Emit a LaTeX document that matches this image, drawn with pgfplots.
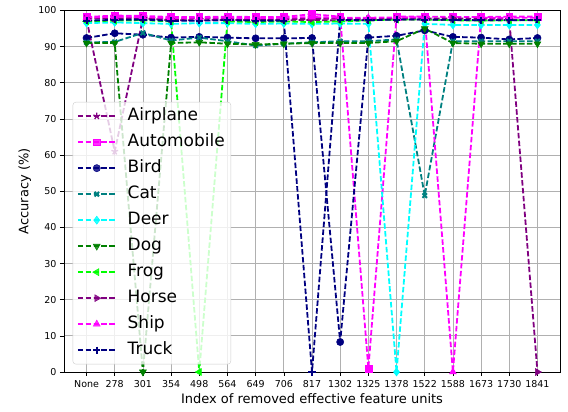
\documentclass[border=0pt]{standalone}
\usepackage{fontspec}
\setmainfont{DejaVu Sans}
\usepackage{pgfplots}
\usepackage{pgfplotstable}
\pgfplotsset{compat=1.18}
\usetikzlibrary{plotmarks}
\definecolor{mpurple}{HTML}{800080}
\definecolor{mmagenta}{HTML}{FF00FF}
\definecolor{mnavy}{HTML}{000080}
\definecolor{mteal}{HTML}{008080}
\definecolor{mcyan}{HTML}{00FFFF}
\definecolor{mgreen}{HTML}{008000}
\definecolor{mlime}{HTML}{00FF00}
\definecolor{mgrid}{HTML}{B0B0B0}
\pgfplotstableread{
x Airplane Automobile Bird Cat Deer Dog Frog Horse Ship Truck
0  97.5 98.2 92.4 91.2 96.5 91.0 97.0 97.8 98.0 97.2
1  61.0 98.6 93.7 91.3 96.7 91.0 97.2 97.8 98.3 97.4
2  97.8 98.5 93.3 93.8 96.5 0.0  97.3 98.0 98.2 97.5
3  97.3 98.2 92.5 91.7 96.3 91.0 97.0 97.6 97.9 97.1
4  97.3 98.2 92.7 92.5 96.5 91.2 0.0  97.8 98.0 97.2
5  97.4 98.3 92.5 91.5 96.5 90.8 97.0 97.7 98.0 97.3
6  97.3 98.2 92.3 90.3 96.3 90.6 96.8 97.6 97.9 97.2
7  97.3 98.2 92.3 90.8 96.4 90.8 97.0 97.6 98.0 97.2
8  97.4 99.0 92.4 91.2 96.3 91.0 96.8 97.7 98.2 0.0
9  97.2 98.3 8.3  91.5 96.4 91.0 97.0 97.7 98.0 97.4
10 97.3 1.0  92.5 91.5 96.3 91.0 97.3 97.6 98.0 97.3
11 97.5 98.3 93.0 92.0 0.0  91.5 97.5 97.8 98.1 97.5
12 97.5 98.3 94.5 48.8 96.3 95.0 97.5 97.8 98.1 97.5
13 97.3 98.2 92.7 91.5 96.0 91.0 97.3 97.8 0.0  97.4
14 97.3 98.2 92.5 91.5 96.0 90.8 97.2 97.7 98.0 97.3
15 97.4 98.3 92.0 91.5 96.0 90.8 97.3 97.7 98.0 97.3
16 97.3 98.3 92.4 91.5 96.0 90.8 97.3 0.0  98.0 97.4
}\datatable
\begin{document}
\begin{tikzpicture}
\useasboundingbox (-64pt,-40pt) rectangle (504pt,372pt);
\begin{axis}[
  at={(0pt,0pt)}, anchor=south west,
  scale only axis, width=496pt, height=361.5pt,
  xmin=-0.8, xmax=16.8, ymin=0, ymax=100,
  xtick={0,...,16},
  xticklabels={None,278,301,354,498,564,649,706,817,1302,1325,1378,1522,1588,1673,1730,1841},
  ytick={0,10,...,100},
  tick pos=left, tick align=outside,
  major tick length=4pt,
  tick style={black, line width=0.6pt},
  axis line style={black, line width=0.7pt},
  grid=major,
  major grid style={mgrid, line width=0.7pt},
  /pgf/number format/assume math mode=true,
  ticklabel style={font=\fontsize{9.5}{11}\selectfont},
  xticklabel style={yshift=-1pt},
  xlabel={Index of removed effective feature units},
  ylabel={Accuracy (\%)},
  label style={font=\fontsize{13}{15}\selectfont},
  xlabel style={at={(axis description cs:0.5,-0.05)}, anchor=north},
  ylabel style={at={(axis description cs:-0.079,0.5)}, anchor=center},
  legend cell align=left,
  legend style={at={(axis description cs:0.0175,0.747)}, anchor=north west,
    font=\fontsize{17}{20}\selectfont,
    draw=black!20, rounded corners=3pt, fill=white, fill opacity=0.8, text opacity=1,
    row sep=6pt, column sep=9pt, inner xsep=4pt, inner ysep=4pt,
    nodes={inner sep=2pt, text height=12.5pt, text depth=3.5pt}},
  legend image code/.code={\draw[mark repeat=2,mark phase=2] plot coordinates {(0pt,0pt)(19pt,0pt)(38pt,0pt)};},
  every axis plot post/.append style={line width=1.8pt, dash pattern=on 5.5pt off 2.4pt},
]
\addplot[mpurple, mark=star, mark size=3.5pt, mark options={solid, line width=1.3pt}] table[x=x,y=Airplane]{\datatable};
\addlegendentry{Airplane}
\addplot[mmagenta, mark=square*, mark size=3.4pt, mark options={solid, line width=0.5pt}] table[x=x,y=Automobile]{\datatable};
\addlegendentry{Automobile}
\addplot[mnavy, mark=*, mark size=3.6pt, mark options={solid, line width=0.5pt}] table[x=x,y=Bird]{\datatable};
\addlegendentry{Bird}
\addplot[mteal, mark=x, mark size=3.2pt, mark options={solid, line width=2pt}] table[x=x,y=Cat]{\datatable};
\addlegendentry{Cat}
\addplot[mcyan, mark=diamond*, mark size=4pt, mark options={solid, line width=0.5pt}] table[x=x,y=Deer]{\datatable};
\addlegendentry{Deer}
\addplot[mgreen, mark=triangle*, mark size=4pt, mark options={solid, rotate=180, line width=0.5pt}] table[x=x,y=Dog]{\datatable};
\addlegendentry{Dog}
\addplot[mlime, mark=triangle*, mark size=4pt, mark options={solid, rotate=90, line width=0.5pt}] table[x=x,y=Frog]{\datatable};
\addlegendentry{Frog}
\addplot[mpurple, mark=triangle*, mark size=4pt, mark options={solid, rotate=-90, line width=0.5pt}] table[x=x,y=Horse]{\datatable};
\addlegendentry{Horse}
\addplot[mmagenta, mark=triangle*, mark size=4pt, mark options={solid, line width=0.5pt}] table[x=x,y=Ship]{\datatable};
\addlegendentry{Ship}
\addplot[mnavy, mark=+, mark size=3.6pt, mark options={solid, line width=2pt}] table[x=x,y=Truck]{\datatable};
\addlegendentry{Truck}
\end{axis}
\end{tikzpicture}
\end{document}
